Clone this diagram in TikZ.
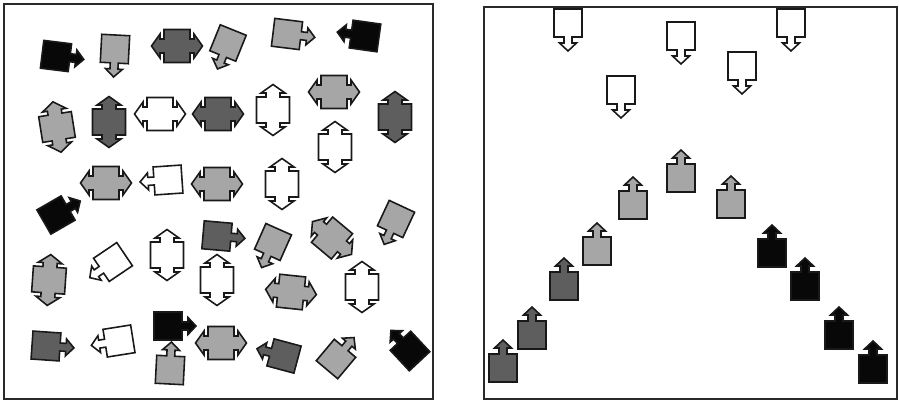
\documentclass[tikz,border=0pt]{standalone}
\usepackage{tikz}
\definecolor{agblackc}{HTML}{080808}
\definecolor{agdarkc}{HTML}{5E5E5E}
\definecolor{aglightc}{HTML}{A6A6A6}
\definecolor{framec}{HTML}{2A2A2A}
\tikzset{
  agbase/.style={draw=black!90, line width=0.9pt, line join=miter},
  agblack/.style={agbase, fill=agblackc},
  agdark/.style={agbase, fill=agdarkc},
  aglight/.style={agbase, fill=aglightc},
  agwhite/.style={agbase, fill=white},
  panel/.style={draw=framec, line width=1.1pt},
  % one arrow, pointing along local x
  agent/.pic={
    \path[pic actions] (-14,-14) -- (14,-14) -- (14,-4) -- (20,-4) -- (20,-8.5) -- (28,0)
      -- (20,8.5) -- (20,4) -- (14,4) -- (14,14) -- (-14,14) -- cycle;
  },
  % two arrows, both ends of local x
  twoway/.pic={
    \path[pic actions] (-13,-16.5) -- (13,-16.5) -- (13,-7) -- (17,-7) -- (17,-12) -- (25.5,0)
      -- (17,12) -- (17,7) -- (13,7) -- (13,16.5) -- (-13,16.5) -- (-13,7) -- (-17,7)
      -- (-17,12) -- (-25.5,0) -- (-17,-12) -- (-17,-7) -- (-13,-7) -- cycle;
  }
}

\begin{document}
\begin{tikzpicture}[x=0.02cm, y=-0.02cm]
    \useasboundingbox (0,0) rectangle (899,402);
    % left panel
    \pic[agblack, rotate=-7] at (56,56) {agent};
    \pic[aglight, rotate=-93] at (115,49) {agent};
    \pic[agdark] at (177,46) {twoway};
    \pic[aglight, rotate=-112] at (228,43) {agent};
    \pic[aglight, rotate=-7] at (287,34) {agent};
    \pic[agblack, rotate=172] at (365,36) {agent};
    \pic[aglight, rotate=99] at (57,127) {twoway};
    \pic[agdark, rotate=90] at (109,122) {twoway};
    \pic[agwhite] at (160,114) {twoway};
    \pic[agdark] at (218,114) {twoway};
    \pic[agwhite, rotate=90] at (273,110) {twoway};
    \pic[aglight] at (334,92) {twoway};
    \pic[agwhite, rotate=90] at (335,147) {twoway};
    \pic[agdark, rotate=90] at (395,117) {twoway};
    \pic[aglight] at (106,183) {twoway};
    \pic[agblack, rotate=30] at (56,215) {agent};
    \pic[agwhite, rotate=184] at (168,180) {agent};
    \pic[aglight] at (217,184) {twoway};
    \pic[agwhite, rotate=90] at (282,184) {twoway};
    \pic[agwhite, rotate=214] at (113,262) {agent};
    \pic[agwhite, rotate=90] at (167,255) {twoway};
    \pic[agdark, rotate=-5] at (217,236) {agent};
    \pic[aglight, rotate=-114] at (273,242) {agent};
    \pic[aglight, rotate=140] at (332,238) {twoway};
    \pic[aglight, rotate=-115] at (396,219) {agent};
    \pic[aglight, rotate=86] at (49,280) {twoway};
    \pic[agwhite, rotate=90] at (217,280) {twoway};
    \pic[aglight, rotate=-6] at (291,292) {twoway};
    \pic[agwhite, rotate=90] at (362,287) {twoway};
    \pic[agdark, rotate=-4] at (46,346) {agent};
    \pic[agwhite, rotate=189] at (119,341) {agent};
    \pic[agblack] at (168,326) {agent};
    \pic[aglight, rotate=87] at (170,370) {agent};
    \pic[aglight] at (221,343) {twoway};
    \pic[agdark, rotate=165] at (284,356) {agent};
    \pic[aglight, rotate=50] at (336,359) {agent};
    \pic[agblack, rotate=133] at (410,351) {agent};
    % right panel
    \foreach \x/\y in {568/23, 681/36, 791/23, 742/66, 621/90}
      \pic[agwhite, rotate=-90] at (\x,\y) {agent};
    \foreach \x/\y in {681/178, 633/205, 731/204, 597/251}
      \pic[aglight, rotate=90] at (\x,\y) {agent};
    \foreach \x/\y in {564/286, 532/335, 503/368}
      \pic[agdark, rotate=90] at (\x,\y) {agent};
    \foreach \x/\y in {772/253, 805/286, 839/335, 873/369}
      \pic[agblack, rotate=90] at (\x,\y) {agent};
    \draw[panel] (4,4) rectangle (433,399);
    \draw[panel] (484,7) rectangle (897,399);
  \end{tikzpicture}
\end{document}
